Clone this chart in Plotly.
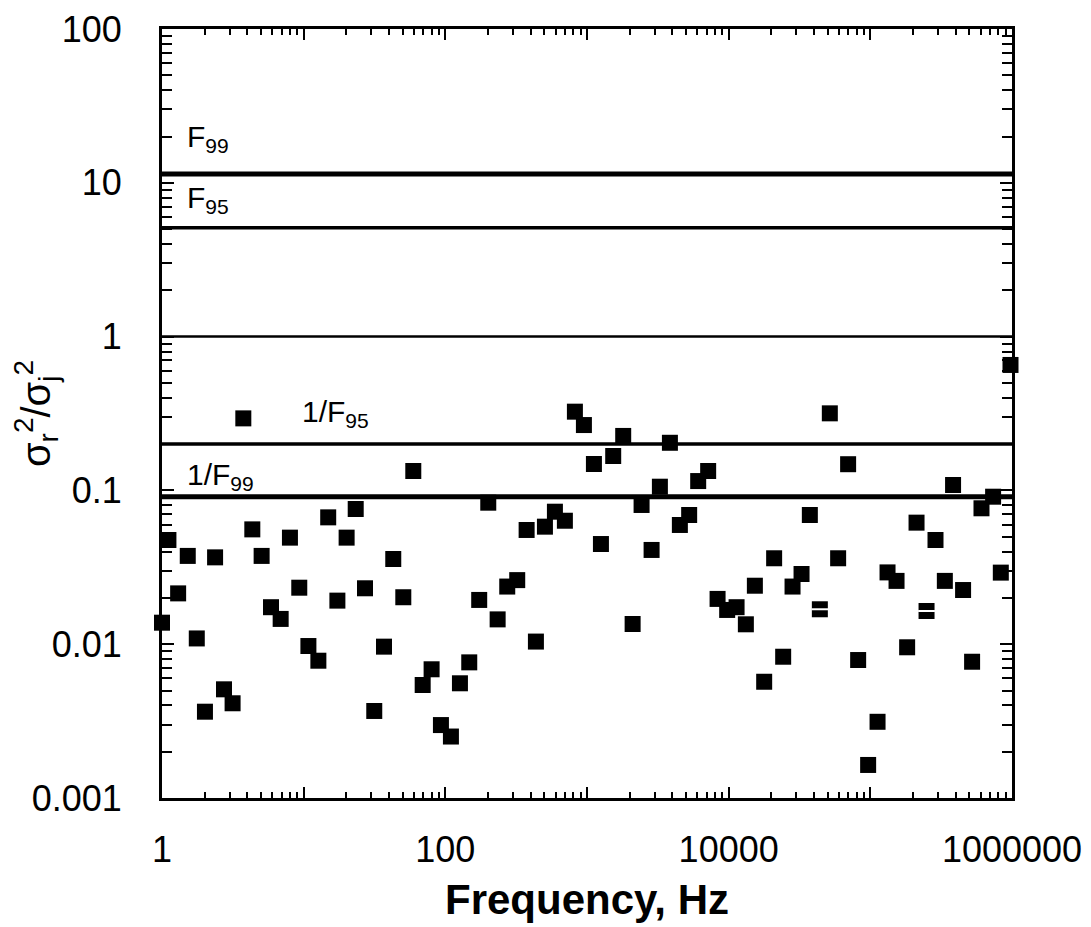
import plotly.graph_objects as go

# frequency (Hz) and variance ratio
FREQ_HZ = [
    1.0, 1.11, 1.30, 1.52, 1.76, 2.01, 2.37, 2.74, 3.15, 3.75,
    4.34, 5.05, 5.88, 6.88, 8.0, 9.31, 10.8, 12.7, 14.9, 17.3,
    20.1, 23.3, 27.1, 31.5, 36.9, 42.9, 50.5, 59.4, 69.2, 80.0,
    93.1, 109.5, 126.8, 147.5, 173.4, 200.9, 234, 273.5, 321.7, 374.8,
    435.9, 504.7, 593.6, 698, 821.5, 951, 1119, 1254, 1531, 1801,
    2099, 2428, 2857, 3270, 3848, 4524, 5262, 6094, 7166, 8350,
    9759, 11370, 13225, 15310, 17810, 20940, 24250, 28240, 32690, 37410,
    44020, 51760, 59260, 69690, 82030, 96500, 112450, 132250, 153100, 181900,
    211900, 249300, 288400, 335700, 383700, 451600, 522800, 609000, 735600, 833700,
    975900,
]
RATIO = [
    0.0138, 0.0476, 0.0214, 0.0375, 0.0109, 0.00364, 0.0367, 0.00509, 0.00413, 0.294,
    0.0558, 0.0375, 0.0174, 0.0146, 0.0493, 0.0233, 0.00973, 0.00781, 0.0668, 0.0192,
    0.0493, 0.0757, 0.0231, 0.00368, 0.00964, 0.0358, 0.0202, 0.1337, 0.00543, 0.00687,
    0.00298, 0.00251, 0.00557, 0.00762, 0.0194, 0.0832, 0.0145, 0.0237, 0.0261, 0.0553,
    0.0104, 0.0581, 0.0727, 0.0635, 0.325, 0.266, 0.1485, 0.0448, 0.1674, 0.226,
    0.01353, 0.0804, 0.041, 0.1057, 0.204, 0.0596, 0.0692, 0.115, 0.1337, 0.0197,
    0.0167, 0.0174, 0.01347, 0.024, 0.0057, 0.0362, 0.00829, 0.0237, 0.0286, 0.0692,
    0.01687, 0.317, 0.0362, 0.148, 0.00789, 0.00164, 0.00313, 0.0293, 0.0258, 0.00955,
    0.0617, 0.01644, 0.0476, 0.0258, 0.1084, 0.0225, 0.00769, 0.0765, 0.091, 0.0292,
    0.654,
]

# two points drawn with a white bar through the square
EQ_FREQ = [44020, 249300]
EQ_RATIO = [0.01687, 0.01644]

# reference levels
F99 = 11.4
F95 = 5.1
UNITY = 1.0
INV_F95 = 0.2
INV_F99 = 0.091

X_TICKS = [1, 10, 100, 1e3, 1e4, 1e5, 1e6]
X_TICKTEXT = ["1", "", "100", "", "10000", "", "1000000"]
Y_TICKS = [0.001, 0.01, 0.1, 1, 10, 100]
Y_TICKTEXT = ["0.001", "0.01", "0.1", "1", "10", "100"]

FONT = "Liberation Sans, Arial, sans-serif"


def minor_vals(lo_exp, hi_exp):
    return [m * 10 ** e for e in range(lo_exp, hi_exp) for m in range(2, 10)]


fig = go.Figure()

for val, w in [(F99, 5), (F95, 3.5), (UNITY, 2.5), (INV_F95, 3.5), (INV_F99, 5)]:
    fig.add_hline(y=val, line_color="black", line_width=w, layer="below")

fig.add_trace(go.Scatter(
    x=FREQ_HZ, y=RATIO, mode="markers",
    marker=dict(symbol="square", size=16, color="black", line=dict(width=0)),
    cliponaxis=False, showlegend=False,
))
fig.add_trace(go.Scatter(
    x=EQ_FREQ, y=EQ_RATIO, mode="markers",
    marker=dict(symbol="line-ew", size=12, line=dict(color="white", width=2)),
    cliponaxis=False, showlegend=False,
))

ann_font = dict(family=FONT, size=30, color="black")
for txt, x, y in [
    ("F<sub>99</sub>", 0.027, 0.858),
    ("F<sub>95</sub>", 0.027, 0.778),
    ("1/F<sub>95</sub>", 0.162, 0.500),
    ("1/F<sub>99</sub>", 0.027, 0.418),
]:
    fig.add_annotation(text=txt, x=x, y=y, xref="paper", yref="paper",
                       xanchor="left", yanchor="middle", showarrow=False, font=ann_font)

# page body adds an 8px offset, margins compensate for it
fig.update_layout(
    width=1091, height=927,
    plot_bgcolor="white", paper_bgcolor="white",
    margin=dict(l=154, r=87, t=21, b=137),
    font=dict(family=FONT, size=36, color="black"),
    xaxis=dict(
        type="log", range=[0, 6], automargin=False,
        tickmode="array", tickvals=X_TICKS, ticktext=X_TICKTEXT,
        ticks="inside", ticklen=11, tickwidth=2, tickcolor="black",
        showline=True, linewidth=3, linecolor="black", mirror="ticks",
        showgrid=False, zeroline=False, ticklabelstandoff=18,
        minor=dict(tickmode="array", tickvals=minor_vals(0, 6), ticks="inside",
                   ticklen=6, tickwidth=2, tickcolor="black", showgrid=False),
        title=dict(text="<b>Frequency, Hz</b>", font=dict(family=FONT, size=42), standoff=16),
    ),
    yaxis=dict(
        type="log", range=[-3, 2], automargin=False,
        tickmode="array", tickvals=Y_TICKS, ticktext=Y_TICKTEXT,
        ticks="inside", ticklen=12, tickwidth=2, tickcolor="black",
        showline=True, linewidth=3, linecolor="black", mirror="ticks",
        showgrid=False, zeroline=False, ticklabelstandoff=30,
        minor=dict(tickmode="array", tickvals=minor_vals(-3, 2), ticks="inside",
                   ticklen=10, tickwidth=2, tickcolor="black", showgrid=False),
        title=dict(text="σ<sub>r</sub><sup>2</sup>/σ<sub>j</sub><sup>2</sup>",
                   font=dict(family=FONT, size=40), standoff=10),
    ),
)

fig.write_html("out.html")
